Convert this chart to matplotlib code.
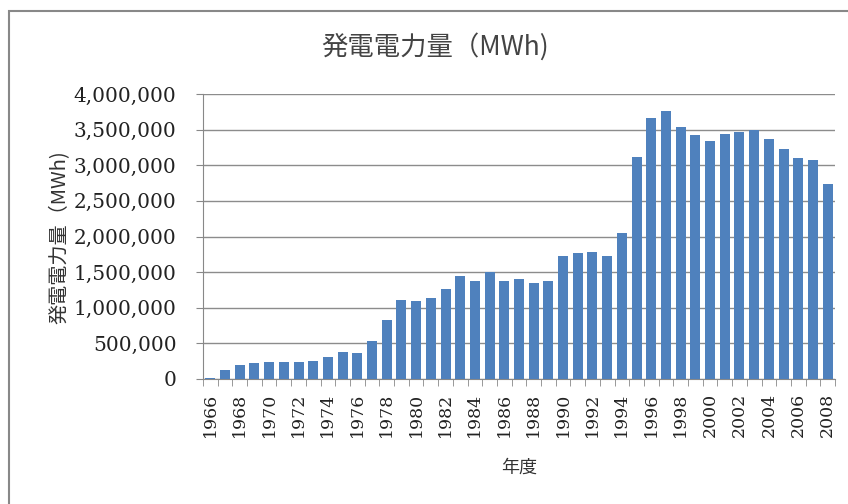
import numpy as np
import matplotlib
matplotlib.use("Agg")
import matplotlib.pyplot as plt
from matplotlib.patches import Rectangle
from matplotlib.ticker import FuncFormatter

# 年度と発電電力量 (MWh)
years = list(range(1966, 2009))
energy = [
    20000, 131000, 196000, 224000, 243000, 238000, 238000, 257000, 308000,
    378000, 364000, 533000, 822000, 1103000, 1089000, 1131000, 1262000,
    1444000, 1379000, 1495000, 1379000, 1402000, 1346000, 1379000, 1720000,
    1766000, 1785000, 1720000, 2051000, 3112000, 3659000, 3757000, 3533000,
    3430000, 3346000, 3435000, 3472000, 3495000, 3369000, 3229000, 3098000,
    3070000, 2734000,
]
yticks = [0, 500000, 1000000, 1500000, 2000000, 2500000, 3000000, 3500000, 4000000]

title = "発電電力量（MWh)"
ylabel = "発電電力量（MWh)"
xlabel = "年度"

jp = ["Noto Sans CJK JP", "DejaVu Sans"]
serif = "DejaVu Serif"

fig = plt.figure(figsize=(8.48, 5.04), dpi=100)
ax = fig.add_axes([203 / 848, 125 / 504, 632 / 848, 285 / 504])

x = np.arange(len(years))
ax.bar(x, energy, width=0.68, color="#4F81BD", zorder=3)

ax.set_xlim(-0.5, len(years) - 0.5)
ax.set_ylim(0, 4000000)

# 目盛り
ax.set_yticks(yticks)
ax.yaxis.set_major_formatter(FuncFormatter(lambda v, p: f"{int(v):,}"))
ax.tick_params(axis="y", length=5, color="#888888", labelsize=14.5,
               labelcolor="#222222", pad=14)
for lab in ax.get_yticklabels():
    lab.set_family(serif)

ax.set_xticks(x[::2])
ax.set_xticklabels([str(y) for y in years[::2]], rotation=90, family=serif,
                   fontsize=12.5, color="#222222")
ax.set_xticks(np.arange(len(years) + 1) - 0.5, minor=True)
ax.tick_params(axis="x", which="major", length=0, pad=10)
ax.tick_params(axis="x", which="minor", length=5, color="#888888")

ax.grid(axis="y", color="#8c8c8c", linewidth=1, zorder=0)
for side in ["top", "right"]:
    ax.spines[side].set_visible(False)
for side in ["left", "bottom"]:
    ax.spines[side].set_color("#888888")

fig.text(435 / 848, 1 - 47 / 504, title, family=jp, fontsize=19,
         color="#444444", ha="center", va="center")
fig.text(60 / 848, 1 - 237 / 504, ylabel, family=jp, fontsize=14.5,
         color="#333333", ha="center", va="center", rotation=90)
fig.text(519 / 848, 1 - 468 / 504, xlabel, family=jp, fontsize=13,
         color="#333333", ha="center", va="center")

# 外枠
fig.patches.append(Rectangle((9 / 848, -0.05), 1.2, 1 - 11 / 504 + 0.05,
                             transform=fig.transFigure, fill=False,
                             edgecolor="#888888", linewidth=1.5))

fig.savefig("out.png", dpi=100)
